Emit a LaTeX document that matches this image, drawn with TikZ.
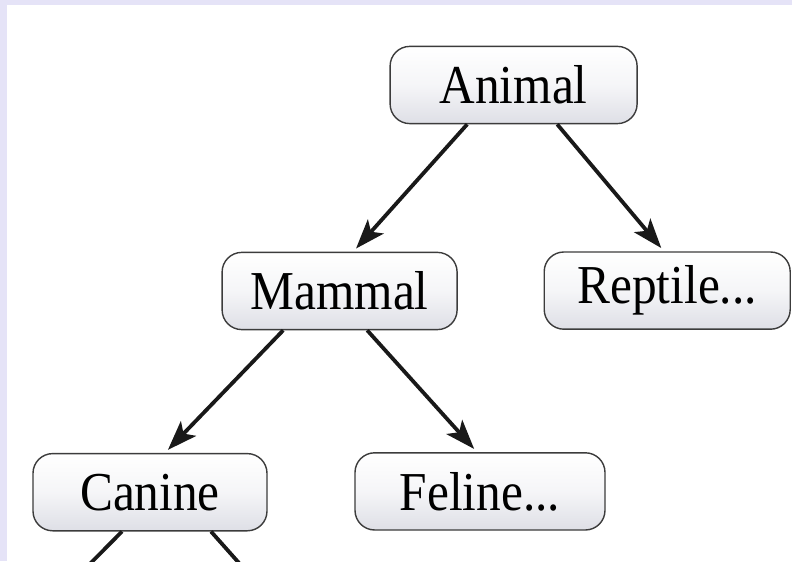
\documentclass[tikz,border=0pt]{standalone}
\usepackage{fontspec}
\setmainfont{Liberation Serif}[FakeStretch=0.9]
\usepackage{tikz}
\usetikzlibrary{arrows.meta,positioning,calc}
\definecolor{vlav}{HTML}{E5E3F7}
\definecolor{vedge}{HTML}{3C3C3C}
\definecolor{vshade}{HTML}{DEDFE6}
\tikzset{
  box/.style={draw=vedge,top color=white,bottom color=vshade,middle color=white!70!vshade,rounded corners=14pt,line width=1pt,align=center,font=\fontsize{39}{42}\selectfont,minimum height=1.93cm,inner sep=0pt},
  arr/.style={-{Stealth[length=21pt,width=15pt,inset=5pt]},line width=2.7pt,draw=black!90,shorten >=3pt},
  ln/.style={line width=2.7pt,draw=black!90},
}
\begin{document}
\begin{tikzpicture}
  \fill[vlav] (0,0) rectangle (19.8,14.025);
  \fill[white] (0.175,0) rectangle (19.8,13.9);
  \useasboundingbox (0,0) rectangle (19.8,14.025);
  % the tree
  \node[box,minimum width=6.175cm] (animal) at (12.84,11.9) {Animal};
  \node[box,minimum width=5.875cm] (mammal) at (8.49,6.75) {Mammal};
  \node[box,minimum width=6.15cm] (reptile) at (16.68,6.76) {Reptile...};
  \node[box,minimum width=5.85cm] (canine) at (3.75,1.72) {Canine};
  \node[box,minimum width=6.25cm] (feline) at (12.0,1.74) {Feline...};
  \draw[arr] ([xshift=-1.16cm]animal.south) -- ([xshift=0.34cm]mammal.north);
  \draw[arr] ([xshift=1.09cm]animal.south) -- ([xshift=-0.08cm]reptile.north);
  \draw[arr] ([xshift=-1.41cm]mammal.south) -- ([xshift=0.375cm]canine.north);
  \draw[arr] ([xshift=0.69cm]mammal.south) -- ([xshift=-0.075cm]feline.north);
  % children of canine, cut off by the page
  \coordinate (dogl) at (1.825,-0.5);
  \coordinate (dogr) at (6.375,-0.5);
  \draw[ln] ([xshift=-0.7cm]canine.south) -- (dogl);
  \draw[ln] ([xshift=1.525cm]canine.south) -- (dogr);
\end{tikzpicture}
\end{document}
